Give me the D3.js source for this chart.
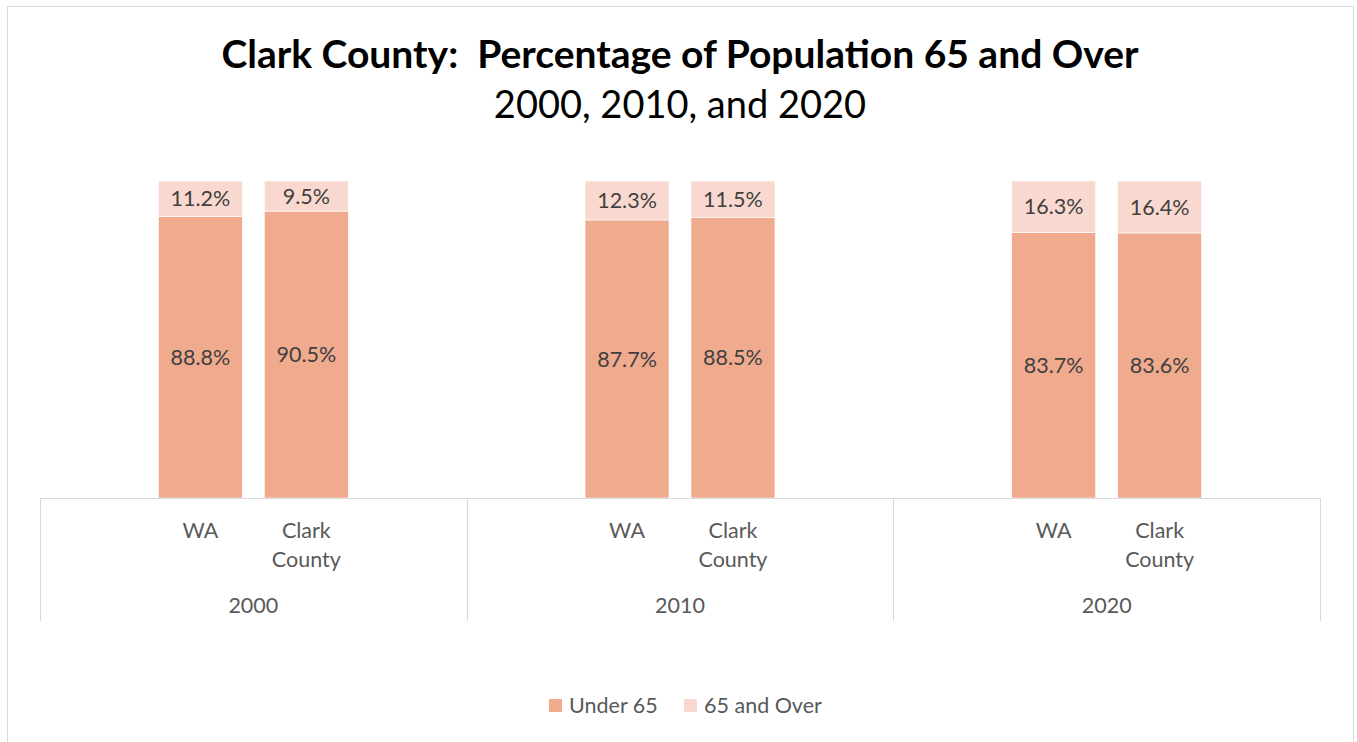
<!DOCTYPE html>
<html>
<head>
<meta charset="utf-8">
<script src="https://cdn.jsdelivr.net/npm/d3@7"></script>
<style>
  body { margin: 0; background: #fff; }
  svg { display: block; font-family: Lato, "Open Sans", sans-serif; }
</style>
</head>
<body>
<div id="chart"></div>
<script>
// chart values
const years = ['2000', '2010', '2020'];
const places = ['WA', 'Clark County'];
const under65 = [88.8, 90.5, 87.7, 88.5, 83.7, 83.6];
const over65 = [11.2, 9.5, 12.3, 11.5, 16.3, 16.4];
const seriesNames = ['Under 65', '65 and Over'];
const colors = ['#f0aa8e', '#f9d9cf'];

const W = 1357, H = 742;
const plot = { left: 40, right: 1320, top: 181, bottom: 498 };
const fs = 21.5;

const svg = d3.select('#chart').append('svg').attr('width', W).attr('height', H);

// outer frame
svg.append('rect').attr('x', 7.5).attr('y', 6.5).attr('width', 1346).attr('height', 760)
  .attr('fill', '#fff').attr('stroke', '#d9d9d9');

// title
const title = svg.append('text').attr('text-anchor', 'middle').attr('fill', '#000');
title.append('tspan').attr('x', 680).attr('y', 68).attr('font-weight', 700).attr('font-size', 39)
  .text('Clark County:\u00a0 Percentage of Population 65 and Over');
title.append('tspan').attr('x', 680).attr('y', 118).attr('font-size', 38)
  .text('2000, 2010, and 2020');

const x0 = d3.scaleBand().domain(years).range([plot.left, plot.right]);
const x1 = d3.scaleBand().domain(places).range([0, x0.bandwidth()]).paddingInner(0.2075).paddingOuter(1.117);
const y = d3.scaleLinear().domain([0, 100]).range([plot.bottom, plot.top]);

const rows = [];
years.forEach((yr, i) => places.forEach((p, j) => {
  const k = i * places.length + j;
  rows.push({ year: yr, place: p, vals: [under65[k], over65[k]] });
}));

const stacked = rows.map(r => {
  let acc = 0;
  return r.vals.map((v, s) => { const seg = { r, s, v, y0: acc, y1: acc + v }; acc += v; return seg; });
}).flat();

const g = svg.append('g');
g.selectAll('rect.bar').data(stacked).enter().append('rect')
  .attr('class', 'bar')
  .attr('x', d => x0(d.r.year) + x1(d.r.place))
  .attr('width', x1.bandwidth())
  .attr('y', d => y(d.y1))
  .attr('height', d => y(d.y0) - y(d.y1))
  .attr('fill', d => colors[d.s])
  .attr('stroke', '#fff').attr('stroke-width', 0.6);

g.selectAll('text.lbl').data(stacked).enter().append('text')
  .attr('class', 'lbl')
  .attr('x', d => x0(d.r.year) + x1(d.r.place) + x1.bandwidth() / 2)
  .attr('y', d => (y(d.y0) + y(d.y1)) / 2)
  .attr('dy', '0.35em')
  .attr('text-anchor', 'middle')
  .attr('font-size', fs).attr('fill', '#404040')
  .text(d => d.v.toFixed(1) + '%');

// category axis with group dividers
const axis = svg.append('g').attr('stroke', '#d9d9d9').attr('stroke-width', 1);
axis.append('line').attr('x1', plot.left).attr('x2', plot.right)
  .attr('y1', plot.bottom + 0.5).attr('y2', plot.bottom + 0.5);
const dividers = years.map(yr => x0(yr)).concat([plot.right]);
axis.selectAll('line.div').data(dividers).enter().append('line')
  .attr('class', 'div')
  .attr('x1', d => Math.round(d) + 0.5).attr('x2', d => Math.round(d) + 0.5)
  .attr('y1', plot.bottom).attr('y2', 621);

const lab = svg.append('g').attr('fill', '#595959').attr('font-size', fs).attr('text-anchor', 'middle');
rows.forEach(r => {
  const cx = x0(r.year) + x1(r.place) + x1.bandwidth() / 2;
  const t = lab.append('text').attr('x', cx).attr('y', 538);
  r.place.split(' ').forEach((w, i) => t.append('tspan').attr('x', cx).attr('dy', i ? 29 : 0).text(w));
});
years.forEach(yr => {
  lab.append('text').attr('x', x0(yr) + x0.bandwidth() / 2).attr('y', 613).text(yr);
});

// legend
const legend = svg.append('g').attr('font-size', fs).attr('fill', '#595959');
const legX = [549, 684];
seriesNames.forEach((n, i) => {
  legend.append('rect').attr('x', legX[i]).attr('y', 699).attr('width', 13).attr('height', 13).attr('fill', colors[i]);
  legend.append('text').attr('x', legX[i] + 20).attr('y', 713).text(n);
});
</script>
</body>
</html>
